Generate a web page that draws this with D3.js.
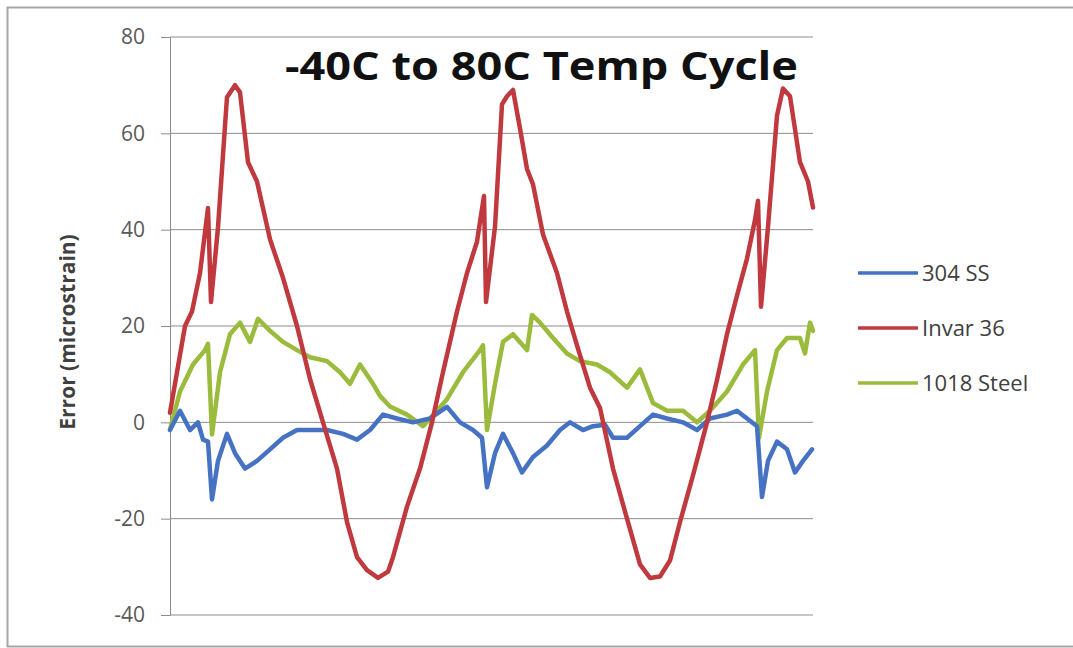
<!DOCTYPE html>
<html>
<head>
<meta charset="utf-8">
<script src="https://cdn.jsdelivr.net/npm/d3@7"></script>
<style>
	html, body { margin: 0; padding: 0; background: #fff; }
	svg { display: block; font-family: "Open Sans", "DejaVu Sans", sans-serif; }
</style>
</head>
<body>
<svg id="chart" width="1073" height="648"></svg>
<script>
// sample positions (x) and error values (microstrain)
var ss304X = [0, 10, 20, 28, 33, 38, 42, 48, 57, 65, 75, 87, 100, 113, 127, 140, 157, 173, 187, 200,
	213, 227, 243, 260, 277, 290, 303, 312, 317, 325, 333, 343, 352, 363, 377, 390, 400, 413, 423, 435,
	443, 457, 470, 483, 497, 513, 527, 540, 557, 567, 577, 587, 592, 598, 607, 617, 625, 633, 642];
var ss304Y = [-1.6, 2.4, -1.6, 0, -3.6, -4, -16, -8, -2.4, -6.4, -9.6, -8, -5.6, -3.2, -1.6, -1.6, -1.6, -2.4, -3.6, -1.6,
	1.6, 0.8, 0, 0.8, 3.2, 0, -1.6, -3.2, -13.5, -6.4, -2.4, -6.4, -10.4, -7.2, -4.8, -1.6, 0, -1.6, -0.8, -0.5,
	-3.2, -3.2, -0.8, 1.6, 0.8, 0, -1.6, 0.8, 1.6, 2.4, 0.8, -0.8, -15.5, -8, -4, -5.6, -10.4, -8, -5.6];

var invarX = [0, 15, 22, 30, 38, 41, 48, 57, 65, 70, 78, 87, 100, 113, 127, 140, 153, 167, 177, 187,
	197, 208, 218, 223, 237, 250, 262, 273, 287, 297, 307, 314, 316, 325, 332, 337, 343, 350, 357, 363,
	373, 387, 397, 407, 420, 430, 443, 457, 470, 480, 490, 500, 510, 523, 537, 547, 557, 567, 577, 585,
	588, 591, 598, 607, 613, 620, 630, 638, 643];
var invarY = [2, 20, 23, 31, 44.5, 25, 40.5, 67.5, 70, 68.5, 54, 50, 38, 30, 20, 9, 0, -9.6, -20.7, -28,
	-30.7, -32.3, -31, -28, -17.5, -9.6, 0, 10.4, 23, 31, 37.5, 47, 25, 40.6, 66, 67.7, 69, 61, 52.6, 49.4,
	39, 31, 23, 16, 7.2, 3, -9.6, -20, -29.5, -32.3, -32, -28.7, -20.7, -11, 0, 8.8, 18.3, 26.3, 34, 42,
	46, 24, 40.6, 63.7, 69.3, 67.7, 54, 50, 44.6];

var steelX = [0, 10, 23, 35, 38, 42, 50, 60, 70, 80, 88, 100, 113, 127, 140, 157, 170, 180, 190, 203,
	210, 220, 237, 253, 267, 277, 293, 310, 313, 317, 325, 333, 343, 357, 362, 370, 383, 397, 410, 427,
	440, 457, 470, 483, 497, 513, 527, 540, 557, 573, 585, 589, 597, 607, 617, 630, 635, 640, 643];
var steelY = [-1.5, 6.4, 12, 15, 16.3, -2.5, 10.4, 18.3, 20.7, 16.7, 21.5, 19, 16.7, 15, 13.5, 12.7, 10.4, 8, 12, 8,
	5.5, 3.3, 1.6, -0.8, 2.4, 4.8, 10.4, 15, 16, -1.6, 8, 16.7, 18.3, 15, 22.3, 20.7, 17.5, 14.3, 12.7, 12,
	10.4, 7.2, 11, 4, 2.4, 2.4, 0, 2.4, 6.4, 12, 15, -3.2, 6.4, 15, 17.5, 17.5, 14.3, 20.7, 19];

var seriesNames = ['304 SS', 'Invar 36', '1018 Steel'];
var seriesColors = ['#4672c4', '#c0393f', '#9bbb3c'];
var yTicks = [-40, -20, 0, 20, 40, 60, 80];
var chartTitle = '-40C to 80C Temp Cycle';
var yTitle = 'Error (microstrain)';

(function (d3) {

	var svg = d3.select('#chart');
	var plot = {left: 170, right: 813, top: 37, bottom: 615};

	var x = d3.scaleLinear().domain([0, 643]).range([plot.left, plot.right]);
	var y = d3.scaleLinear().domain([-40, 80]).range([plot.bottom, plot.top]);

	// outer chart frame, runs off the right edge like the screenshot
	svg.append('rect')
		.attr('x', 7.5).attr('y', 7.5)
		.attr('width', 1080).attr('height', 639)
		.attr('fill', '#fff')
		.attr('stroke', '#a6a6a6')
		.attr('stroke-width', 2);

	// horizontal gridlines
	svg.append('g')
		.selectAll('line')
		.data(yTicks)
		.join('line')
		.attr('x1', plot.left).attr('x2', plot.right)
		.attr('y1', function(d) { return y(d); })
		.attr('y2', function(d) { return y(d); })
		.attr('stroke', '#8c8c8c')
		.attr('stroke-width', 1);

	// plain hyphen for negatives, like Excel does
	var yAxis = svg.append('g')
		.attr('transform', 'translate(' + plot.left + ',0)')
		.call(d3.axisLeft(y).tickValues(yTicks).tickSize(9).tickPadding(16)
			.tickFormat(function(d) { return String(d); }));
	yAxis.selectAll('line, path').attr('stroke', '#8c8c8c');
	yAxis.selectAll('text')
		.attr('font-family', '"Open Sans", sans-serif')
		.attr('font-size', 21)
		.attr('fill', '#595959');

	svg.append('text')
		.attr('transform', 'translate(75,' + 332 + ') rotate(-90)')
		.attr('text-anchor', 'middle')
		.attr('font-size', 21)
		.attr('font-weight', 'bold')
		.attr('fill', '#404040')
		.text(yTitle);

	// the three series
	var series = [
		{xs: ss304X, ys: ss304Y},
		{xs: invarX, ys: invarY},
		{xs: steelX, ys: steelY}
	];
	var line = d3.line()
		.x(function(d) { return x(d[0]); })
		.y(function(d) { return y(d[1]); });

	// draw steel first, then 304 SS, then Invar on top
	[2, 0, 1].forEach(function(i) {
		var pts = d3.zip(series[i].xs, series[i].ys);
		svg.append('path')
			.datum(pts)
			.attr('d', line)
			.attr('fill', 'none')
			.attr('stroke', seriesColors[i])
			.attr('stroke-width', 4.5)
			.attr('stroke-linejoin', 'round')
			.attr('stroke-linecap', 'round');
	});

	svg.append('text')
		.attr('x', 285).attr('y', 80)
		.attr('font-size', 40)
		.attr('font-weight', 'bold')
		.attr('fill', '#111')
		.attr('textLength', 513)
		.attr('lengthAdjust', 'spacingAndGlyphs')
		.text(chartTitle);

	// legend
	var legend = svg.append('g').attr('transform', 'translate(858,273)');
	var item = legend.selectAll('g')
		.data(seriesNames)
		.join('g')
		.attr('transform', function(d, i) { return 'translate(0,' + (i * 55) + ')'; });
	item.append('line')
		.attr('x1', 0).attr('x2', 60)
		.attr('stroke', function(d, i) { return seriesColors[i]; })
		.attr('stroke-width', 3.5);
	item.append('text')
		.attr('x', 64).attr('y', 8)
		.attr('font-size', 22)
		.attr('fill', '#404040')
		.text(function(d) { return d; });

}(d3));
</script>
</body>
</html>
